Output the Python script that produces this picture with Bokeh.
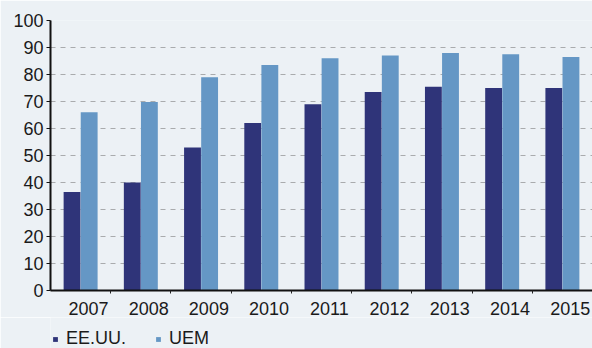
from bokeh.plotting import figure
from bokeh.layouts import column
from bokeh.models import FixedTicker, Legend, LegendItem, ColumnDataSource
from bokeh.embed import file_html
from bokeh.resources import INLINE

years = ["2007", "2008", "2009", "2010", "2011", "2012", "2013", "2014", "2015"]
eeuu = [36.5, 40, 53, 62, 69, 73.5, 75.5, 75, 75]
uem = [66, 69.8, 79, 83.5, 86, 87, 88, 87.5, 86.5]
series_names = ["EE.UU.", "UEM"]
y_ticks = list(range(0, 101, 10))

BG = "#ECF1F5"
NAVY = "#2F3479"
LIGHT = "#6597C5"
FONT = "Liberation Sans"

n = len(years)
centers = [i + 0.5 for i in range(n)]
label_pos = [c + 0.13 for c in centers]
off = 0.142
bw = 0.28

src = ColumnDataSource(dict(
    x1=[c - off for c in centers], x2=[c + off for c in centers],
    eeuu=eeuu, uem=uem))

p = figure(frame_width=542, frame_height=270, x_range=(0, n), y_range=(0, 100),
           output_backend="svg", toolbar_location=None,
           min_border_left=50, min_border_right=0, min_border_top=20,
           min_border_bottom=0)
p.background_fill_color = BG
p.border_fill_color = BG
p.outline_line_color = None

r1 = p.vbar(x="x1", top="eeuu", width=bw, source=src, fill_color=NAVY, line_color=None)
r2 = p.vbar(x="x2", top="uem", width=bw, source=src, fill_color=LIGHT, line_color=None)

# axes
p.xaxis.ticker = FixedTicker(ticks=label_pos, minor_ticks=list(range(1, n)))
p.xaxis.major_label_overrides = {c: y for c, y in zip(label_pos, years)}
p.xaxis.major_tick_out = 0
p.xaxis.major_tick_in = 0
p.xaxis.minor_tick_out = 3
p.xaxis.minor_tick_in = 0
p.xaxis.minor_tick_line_color = "#222222"
p.xaxis.axis_line_color = "#111111"
p.xaxis.axis_line_width = 2
p.xaxis.major_label_standoff = 8
p.xaxis.major_label_text_font = FONT
p.xaxis.major_label_text_font_size = "18px"
p.xaxis.major_label_text_color = "#1a1a1a"

p.yaxis.ticker = FixedTicker(ticks=y_ticks)
p.yaxis.major_tick_out = 4
p.yaxis.major_tick_in = 0
p.yaxis.minor_tick_line_color = None
p.yaxis.axis_line_color = "#111111"
p.yaxis.axis_line_width = 2
p.yaxis.major_tick_line_color = "#111111"
p.yaxis.major_label_standoff = 3
p.yaxis.major_label_text_font = FONT
p.yaxis.major_label_text_font_size = "18px"
p.yaxis.major_label_text_color = "#1a1a1a"

p.xgrid.grid_line_color = None
p.ygrid.grid_line_color = "#A9ABAD"
p.ygrid.grid_line_dash = "5 5"
p.ygrid.grid_line_width = 1

# legend strip below the chart (legend swatches drawn off-screen point)
q = figure(width=592, height=32, x_range=(0, 1), y_range=(0, 1),
           output_backend="svg", toolbar_location=None,
           min_border_left=0, min_border_right=0, min_border_top=0,
           min_border_bottom=0)
q.axis.visible = False
q.grid.visible = False
q.outline_line_color = None
q.background_fill_color = BG
q.border_fill_color = BG
dummy = ColumnDataSource(dict(x=[-5], top=[0]))
l1 = q.vbar(x="x", top="top", width=0.1, source=dummy, fill_color=NAVY, line_color=None)
l2 = q.vbar(x="x", top="top", width=0.1, source=dummy, fill_color=LIGHT, line_color=None)

legend = Legend(items=[LegendItem(label=series_names[0], renderers=[l1]),
                       LegendItem(label=series_names[1], renderers=[l2])],
                orientation="horizontal", location=(2, 0))
legend.glyph_width = 6
legend.glyph_height = 6
legend.label_standoff = 8
legend.spacing = 29
legend.padding = 0
legend.margin = 0
legend.border_line_color = None
legend.background_fill_alpha = 0
legend.label_text_font = FONT
legend.label_text_font_size = "18px"
legend.label_text_color = "#1a1a1a"
q.add_layout(legend, "center")

layout = column(p, q, spacing=0)
open("out.html", "w").write(file_html(layout, INLINE))
